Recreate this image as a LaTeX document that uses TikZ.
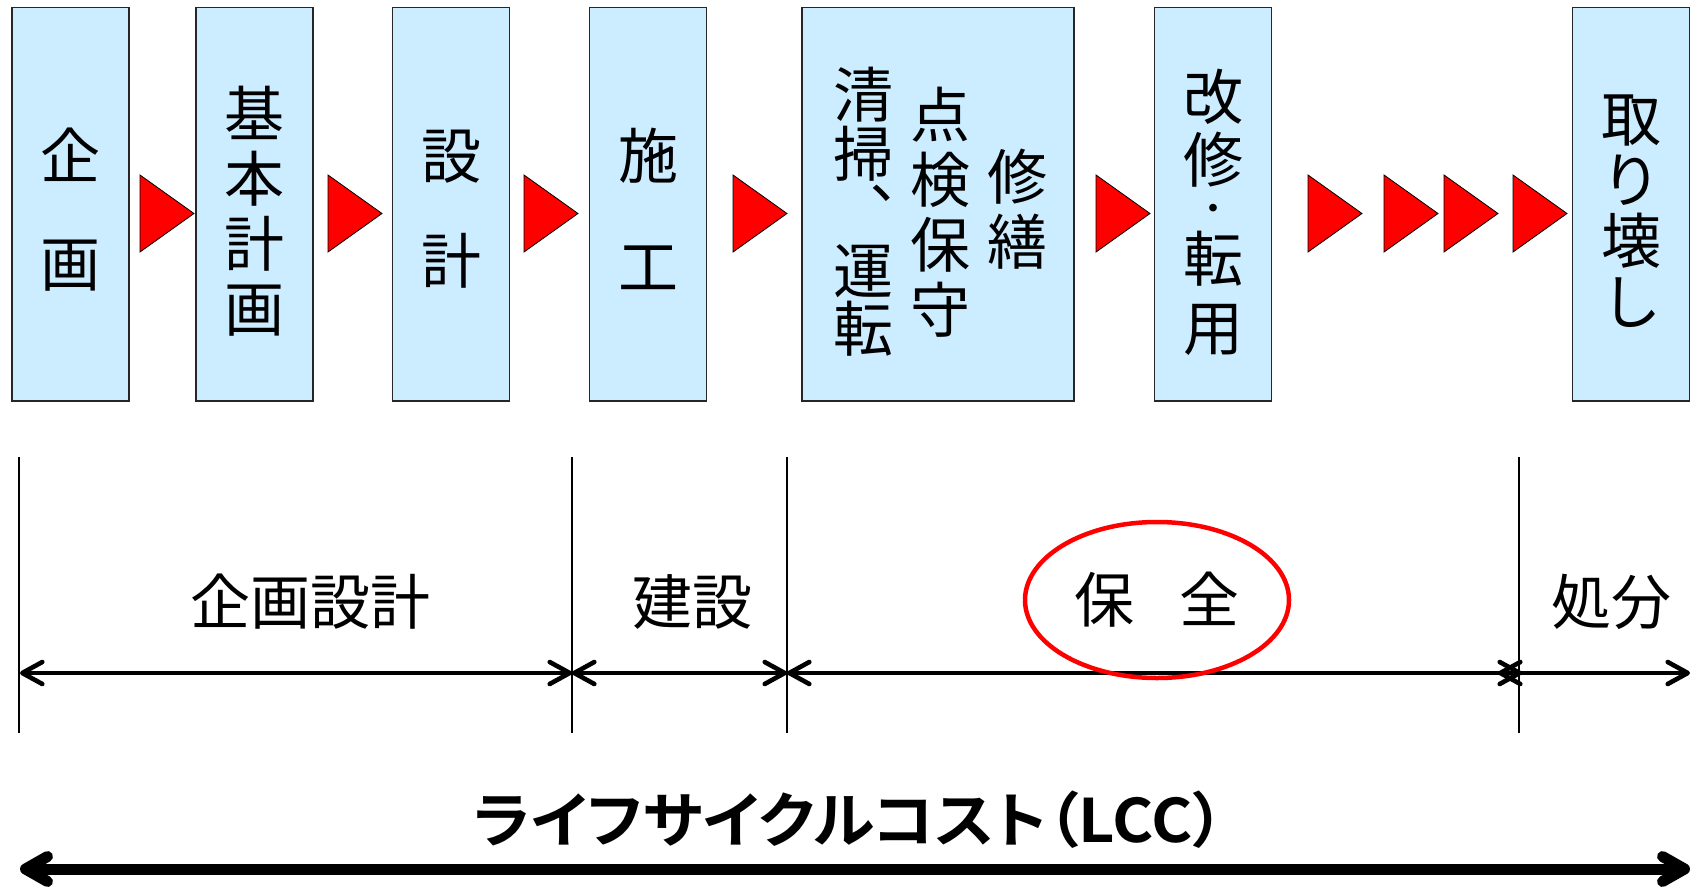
\documentclass[tikz,border=0pt]{standalone}
\usepackage{fontspec}
\setmainfont{Noto Sans CJK JP}
\newfontfamily\jpbold{Noto Sans CJK JP Bold}[RawFeature=+palt]
\usetikzlibrary{arrows.meta,shapes.geometric}
\definecolor{boxblue}{RGB}{204,236,255}
\newcommand\redtri[1]{\draw[redtri] (#1,175) -- ++(54,38.5) -- ++(-54,38.5) -- cycle;}
\begin{document}
\begin{tikzpicture}[x=1pt,y=-1pt,
  stage/.style={draw=black!85, line width=1.5pt, fill=boxblue, minimum height=393.5pt, inner sep=0pt},
  narrow/.style={stage, minimum width=117pt},
  col/.style={align=center, inner sep=0pt, font=\fontsize{60}{65}\selectfont},
  redtri/.style={draw=black, line width=0.8pt, fill=red, line join=miter},
  vline/.style={draw=black, line width=2pt},
  dim/.style={draw=black, line width=4.6pt, {Straight Barb[length=20pt,width=22pt,round]}-{Straight Barb[length=20pt,width=22pt,round]}},
  big/.style={draw=black, line width=11pt, {Straight Barb[length=22pt,width=25pt,round]}-{Straight Barb[length=22pt,width=25pt,round]}},
  lbl/.style={inner sep=0pt, font=\fontsize{60}{65}\selectfont},
  lcc/.style={inner sep=0pt, font=\jpbold\fontsize{60}{65}\selectfont}
]
\useasboundingbox (0,0) rectangle (1691,888);

% stage boxes
\node[narrow] (b1) at (70.5,204.25) {};
\node[narrow] (b2) at (254.5,204.25) {};
\node[narrow] (b3) at (451,204.25) {};
\node[narrow] (b4) at (648,204.25) {};
\node[stage, minimum width=272pt] (b5) at (938,204.25) {};
\node[narrow] (b6) at (1213,204.25) {};
\node[narrow] (b7) at (1631,204.25) {};

% stage texts
\node[col] (t1) at ([yshift=-5pt]b1.center) {企\\[43pt]画};
\node[col] (t2) at ([yshift=-7pt]b2.center) {基\\本\\計\\画};
\node[col] (t3) at ([yshift=-5pt]b3.center) {設\\[40pt]計};
\node[col] (t4) at ([yshift=-5pt]b4.center) {施\\[46pt]工};
\node[col, font=\fontsize{60}{58.5}\selectfont] (t5a) at (863,212) {清\\掃\\︑\\運\\転};
\node[col] (t5b) at (940,212) {点\\検\\保\\守};
\node[col] (t5c) at (1017,209) {修\\繕};
\node[col] (t6a) at (1213,128) {改\\[-2pt]修};
\node[col, font=\jpbold\fontsize{30}{30}\selectfont] (t6b) at (1213,212) {・};
\node[col] (t6c) at (1213,293) {転\\[4pt]用};
\node[col] (t7) at ([yshift=-7pt]b7.center) {取\\[-4pt]り\\[-4pt]壊\\[-4pt]し};

% red triangles between stages
\redtri{140}
\redtri{328}
\redtri{524}
\redtri{733}
\redtri{1096}
\redtri{1308}
\redtri{1384}
\redtri{1444}
\redtri{1513}

% phase boundaries
\coordinate (v0t) at (19,457);   \coordinate (v0b) at (19,733);
\coordinate (v1t) at (572,457);  \coordinate (v1b) at (572,733);
\coordinate (v2t) at (787,457);  \coordinate (v2b) at (787,733);
\coordinate (v3t) at (1519,457); \coordinate (v3b) at (1519,733);
\draw[vline] (v0t) -- (v0b);
\draw[vline] (v1t) -- (v1b);
\draw[vline] (v2t) -- (v2b);
\draw[vline] (v3t) -- (v3b);

% phase arrows
\coordinate (p0) at (20,673);
\coordinate (p1) at (572,673);
\coordinate (p2) at (787,673);
\coordinate (p3) at (1522,673);
\coordinate (p3b) at (1498,673);
\coordinate (p4) at (1690,673);
\draw[dim] (p0) -- (p1);
\draw[dim] (p1) -- (p2);
\draw[dim] (p2) -- (p3);
\draw[dim] (p3b) -- (p4);

% phase labels
\node[lbl] (kikaku) at (310,602) {企画設計};
\node[lbl] (kensetsu) at (692,602) {建設};
\node[lbl, ellipse, draw=red, line width=4.5pt, minimum width=264pt, minimum height=156pt] (hozen) at (1157,600) {保\hspace{46pt}全};
\node[lbl] (shobun) at (1611,602) {処分};

% life cycle cost
\node[lcc] (lcctext) at (849,820) {\scalebox{1.05}[1]{ライフサイクルコスト（LCC）}};
\coordinate (L0) at (20,869);
\coordinate (L1) at (1690,869);
\draw[big] (L0) -- (L1);
\end{tikzpicture}
\end{document}
